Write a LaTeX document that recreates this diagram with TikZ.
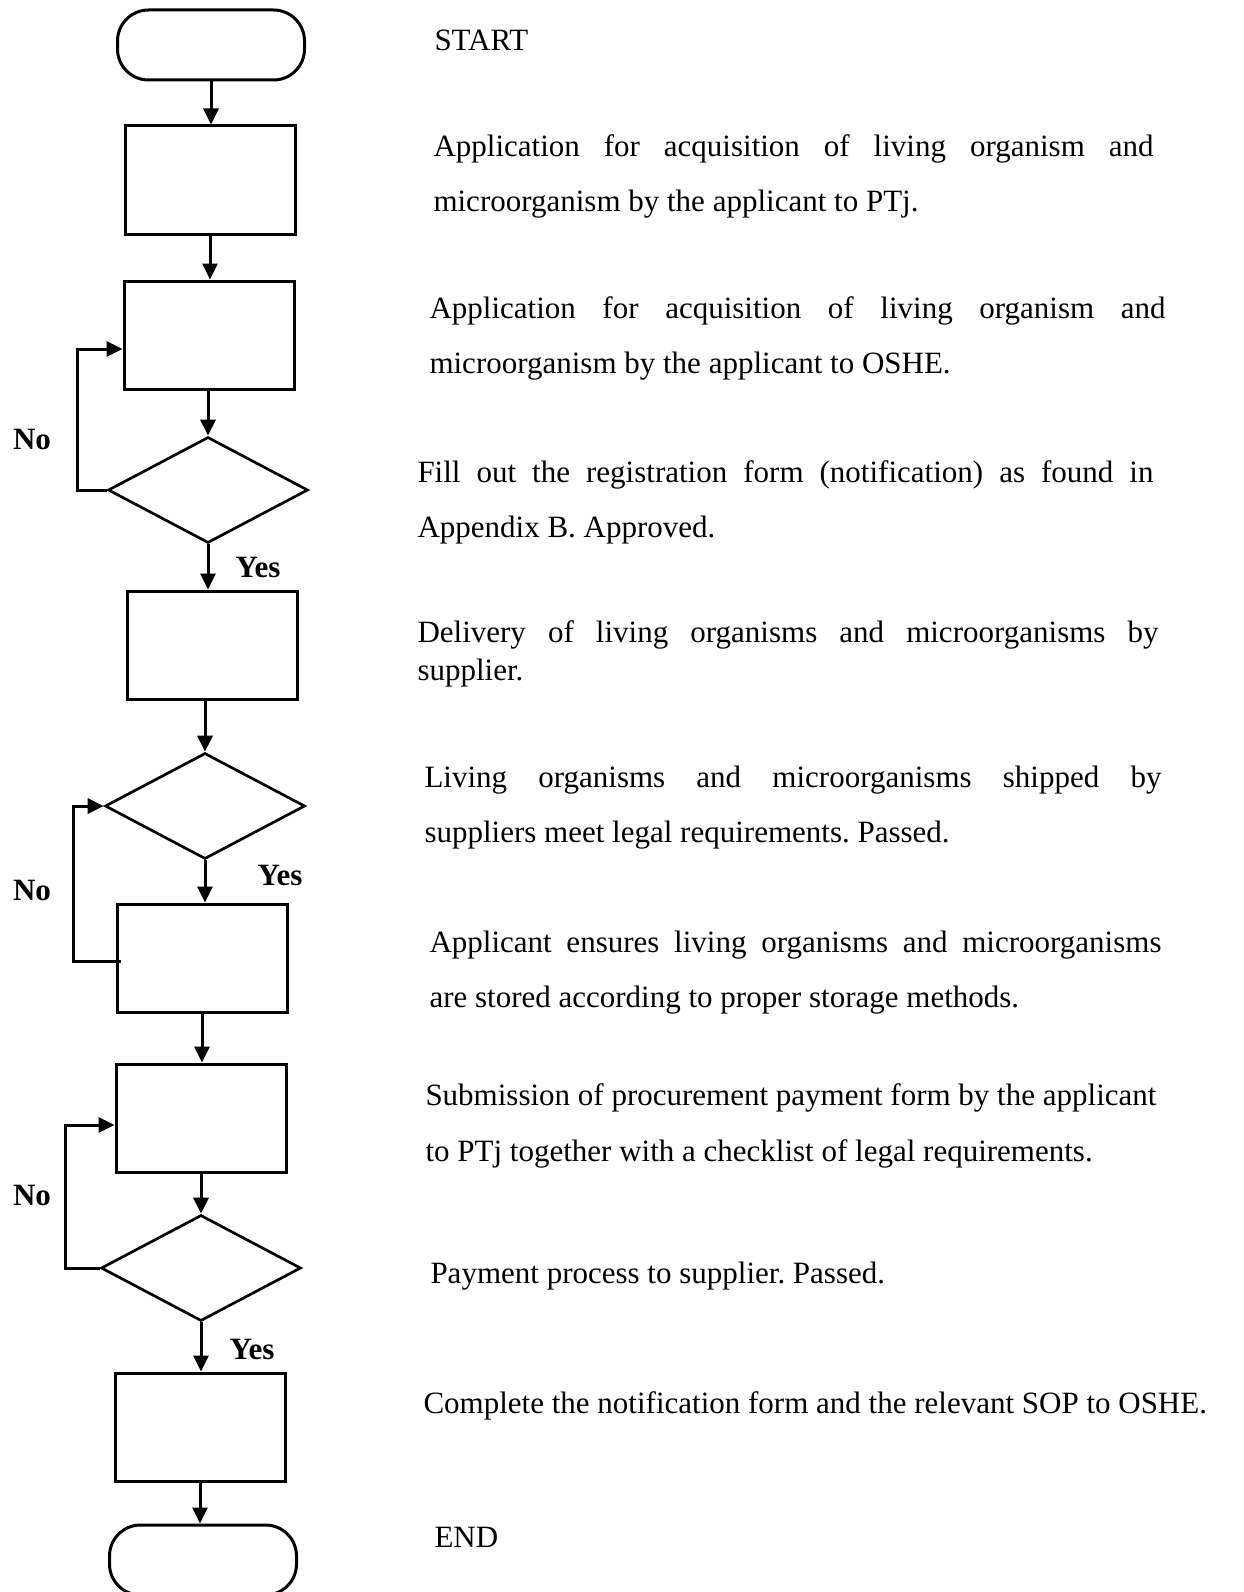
\documentclass[tikz,border=0pt]{standalone}
\usepackage{fontspec}
\setmainfont{Liberation Serif}
\usetikzlibrary{shapes.geometric,arrows.meta}
\frenchspacing
\begin{document}
\begin{tikzpicture}[x=1pt,y=-1pt,
  line width=3pt,
  box/.style={draw, rectangle, minimum width=170pt, minimum height=108pt, inner sep=0pt, line width=3pt},
  term/.style={draw, rectangle, rounded corners=31pt, minimum width=187pt, minimum height=70pt, inner sep=0pt, line width=3pt},
  dec/.style={draw, diamond, minimum width=200pt, minimum height=106pt, inner sep=0pt, line width=2.7pt},
  arr/.style={-{Triangle[length=16pt,width=15pt]}, line width=3pt},
  lbl/.style={font=\fontsize{31}{36}\selectfont\bfseries, inner sep=0pt},
  desc/.style={font=\fontsize{31}{36}\selectfont, anchor=base west, inner sep=0pt}]
\useasboundingbox (0,0) rectangle (1243,1592);
\clip (0,0) rectangle (1243,1592);

% flow nodes
\node[term] (start) at (211,45) {};
\node[box] (b1) at (210,180) {};
\node[box] (b2) at (209,335) {};
\node[dec] (d1) at (208,490) {};
\node[box] (b3) at (212,645) {};
\node[dec] (d2) at (205,806) {};
\node[box] (b4) at (202,958) {};
\node[box] (b5) at (201,1118) {};
\node[dec] (d3) at (201,1268) {};
\node[box] (b6) at (200,1427) {};
\node[term] (end) at (203,1560) {};

% loop corner coordinates
\coordinate (l1) at (77,349);
\coordinate (l2) at (73,961);
\coordinate (l3) at (65,1125);

% main arrows
\draw[arr] (start.south) -- (start.south |- b1.north);
\draw[arr] (b1.south) -- (b1.south |- b2.north);
\draw[arr] (b2.south -| d1.north) -- (d1.north);
\draw[arr] (d1.south) -- (d1.south |- b3.north);
\draw[arr] (b3.south -| d2.north) -- (d2.north);
\draw[arr] (d2.south) -- (d2.south |- b4.north);
\draw[arr] (b4.south) -- (b4.south |- b5.north);
\draw[arr] (b5.south -| d3.north) -- (d3.north);
\draw[arr] (d3.south) -- (d3.south |- b6.north);
\draw[arr] (b6.south) -- (b6.south |- end.north);

% feedback loops
\draw[arr] (d1.west) -- (d1.west -| l1) |- (b2.west |- l1);
\draw[arr] ([xshift=5pt]b4.west |- l2) -- (l2) |- (d2.west);
\draw[arr] (d3.west) -- (d3.west -| l3) |- (b5.west |- l3);

% labels
\node[lbl] (no1) at (32,439) {No};
\node[lbl] (no2) at (32,890) {No};
\node[lbl] (no3) at (32,1195) {No};
\node[lbl] (yes1) at (258,567) {Yes};
\node[lbl] (yes2) at (280,875) {Yes};
\node[lbl] (yes3) at (252,1349) {Yes};

% descriptions
\node[desc] (t0) at (433,51) {START};
\node[desc] (t1a) at (432,156) {\makebox[720pt][s]{Application for acquisition of living organism and}};
\node[desc] (t1b) at (432,211) {microorganism by the applicant to PTj.};
\node[desc] (t2a) at (428,318) {\makebox[736pt][s]{Application for acquisition of living organism and}};
\node[desc] (t2b) at (428,373) {microorganism by the applicant to OSHE.};
\node[desc] (t3a) at (416,482) {\makebox[736pt][s]{Fill out the registration form (notification) as found in}};
\node[desc] (t3b) at (416,537) {Appendix B. Approved.};
\node[desc] (t4a) at (416,642) {\makebox[741pt][s]{Delivery of living organisms and microorganisms by}};
\node[desc] (t4b) at (416,680) {supplier.};
\node[desc] (t5a) at (423,787) {\makebox[737pt][s]{Living organisms and microorganisms shipped by}};
\node[desc] (t5b) at (423,842) {suppliers meet legal requirements. Passed.};
\node[desc] (t6a) at (428,952) {\makebox[732pt][s]{Applicant ensures living organisms and microorganisms}};
\node[desc] (t6b) at (428,1007) {are stored according to proper storage methods.};
\node[desc] (t7a) at (424,1105) {Submission of procurement payment form by the applicant};
\node[desc] (t7b) at (424,1161) {to PTj together with a checklist of legal requirements.};
\node[desc] (t8) at (429,1283) {Payment process to supplier. Passed.};
\node[desc] (t9) at (422,1413) {Complete the notification form and the relevant SOP to OSHE.};
\node[desc] (t10) at (433,1547) {END};
\end{tikzpicture}
\end{document}
